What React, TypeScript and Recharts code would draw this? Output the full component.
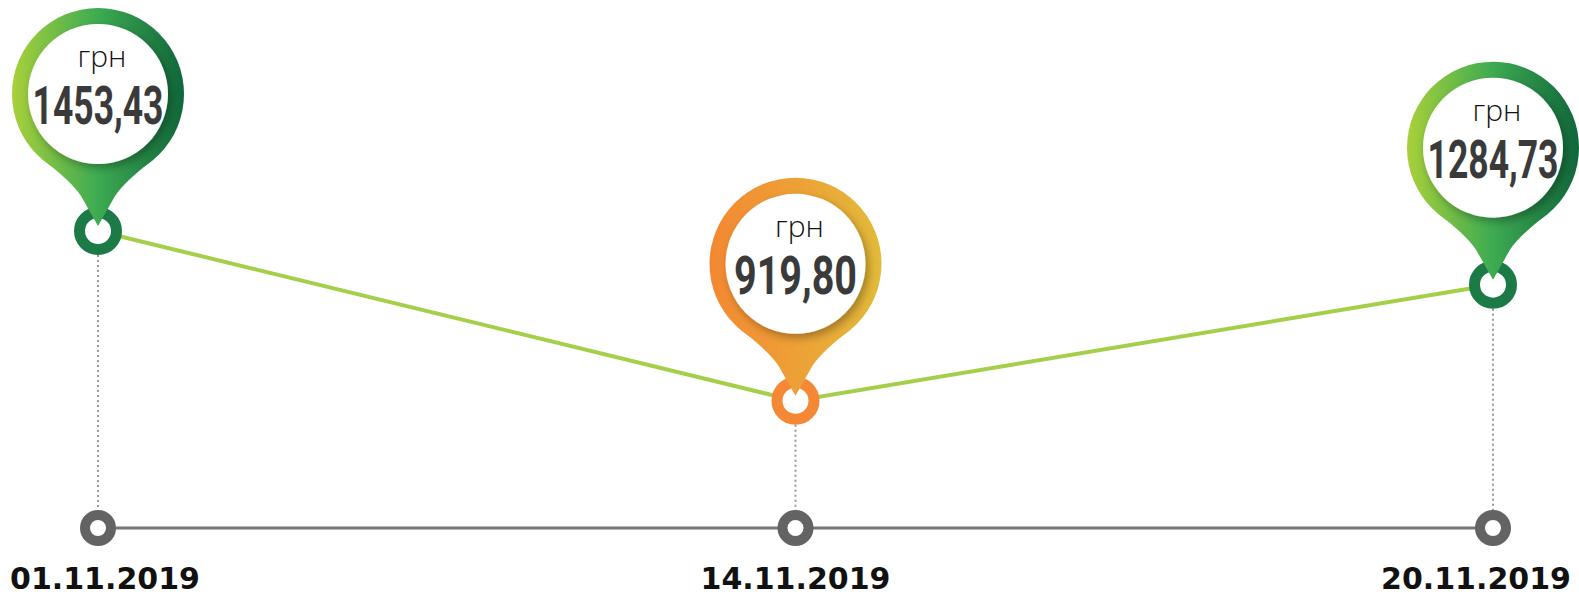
import React from 'react';
import { LineChart, Line, XAxis, YAxis } from 'recharts';

const dates = ['01.11.2019', '14.11.2019', '20.11.2019'];
const prices = [1453.43, 919.8, 1284.73];
const currency = 'грн';

const data = dates.map((d, i) => ({ date: d, price: prices[i] }));

const W = 1579;
const H = 594;
const AXIS_H = 66;
const AXIS_Y = H - AXIS_H;
const LOW = Math.min(...prices);

const fmt = (v: number) => v.toFixed(2).replace('.', ',');

const PinDot = (props: any) => {
    const { cx, cy, index, value } = props;
    if (cx == null || cy == null) return null;
    const orange = value === LOW;
    const gid = `pin-grad-${index}`;
    const R = 86;
    const r = 70;
    const bx = cx;
    const by = cy - 137;
    const tipY = cy - 5;
    // teardrop pointer: fillet from the ring, then nearly straight down to the tip
    const pointer = [
        `M ${bx - 56} ${by + 65}`,
        `Q ${bx - 26} ${by + 88} ${bx - 17} ${by + 102}`,
        `L ${bx} ${tipY}`,
        `L ${bx + 17} ${by + 102}`,
        `Q ${bx + 26} ${by + 88} ${bx + 56} ${by + 65}`,
        'Z',
    ].join(' ');
    const label = fmt(value);
    return (
        <g>
            <defs>
                <linearGradient id={gid} gradientUnits="userSpaceOnUse" x1={bx - R} y1={0} x2={bx + R} y2={0}>
                    {orange ? (
                        <>
                            <stop offset="0" stopColor="#f38832" />
                            <stop offset="0.5" stopColor="#eea036" />
                            <stop offset="1" stopColor="#e1bb3a" />
                        </>
                    ) : (
                        <>
                            <stop offset="0" stopColor="#a9d03a" />
                            <stop offset="0.5" stopColor="#3dab52" />
                            <stop offset="1" stopColor="#10663a" />
                        </>
                    )}
                </linearGradient>
                <filter id={`pin-shadow-${index}`} x="-30%" y="-30%" width="160%" height="160%">
                    <feDropShadow dx="3" dy="4" stdDeviation="4" floodColor="#000" floodOpacity="0.3" />
                </filter>
            </defs>
            <line x1={cx} y1={cy + 24} x2={cx} y2={AXIS_Y - 18} stroke="#9a9a9a" strokeWidth={2} strokeDasharray="2 3" />
            <circle cx={cx} cy={cy} r={18.5} fill="#fff" stroke={orange ? '#f58834' : '#1b7a45'} strokeWidth={11} />
            <path d={pointer} fill={`url(#${gid})`} />
            <circle cx={bx} cy={by} r={R} fill={`url(#${gid})`} />
            <circle cx={bx} cy={by} r={r} fill="#fff" filter={`url(#pin-shadow-${index})`} />
            <text x={bx + 4} y={by - 27} textAnchor="middle" fontFamily="'Open Sans', 'DejaVu Sans', sans-serif" fontWeight={300} fontSize={30} fill="#111">
                {currency}
            </text>
            <text
                x={bx}
                y={by + 30}
                textAnchor="middle"
                fontFamily="Roboto, 'Liberation Sans', sans-serif"
                fontWeight={700}
                fontSize={54}
                fill="#3a3a3a"
                textLength={label.length > 6 ? 131 : 123}
                lengthAdjust="spacingAndGlyphs"
            >
                {label}
            </text>
        </g>
    );
};

const DateTick = (props: any) => {
    const { x, payload } = props;
    const tw = 190;
    const tx = Math.min(Math.max(x, 10 + tw / 2), W - 8 - tw / 2);
    return (
        <g>
            <circle cx={x} cy={AXIS_Y} r={13} fill="#fff" stroke="#636363" strokeWidth={10} />
            <text x={tx} y={589} textAnchor="middle" fontFamily="'DejaVu Sans', sans-serif" fontWeight={700} fontSize={30} fill="#111">
                {payload.value}
            </text>
        </g>
    );
};

export default function App() {
    return (
        <div style={{ position: 'absolute', left: 0, top: 0, width: W, height: H, background: '#fff' }}>
            <LineChart width={W} height={H} data={data} margin={{ top: 178, right: 86, left: 98, bottom: 0 }}>
                <XAxis
                    dataKey="date"
                    height={AXIS_H}
                    padding={{ left: 0, right: 0 }}
                    axisLine={{ stroke: '#777', strokeWidth: 3 }}
                    tickLine={false}
                    tick={(p: any) => <DateTick {...p} />}
                    interval={0}
                />
                <YAxis hide width={0} type="number" domain={[520, 1620]} />
                <Line
                    dataKey="price"
                    stroke="#a4cf48"
                    strokeWidth={4}
                    isAnimationActive={false}
                    dot={(p: any) => <PinDot key={p.index} {...p} />}
                    activeDot={false}
                />
            </LineChart>
        </div>
    );
}
